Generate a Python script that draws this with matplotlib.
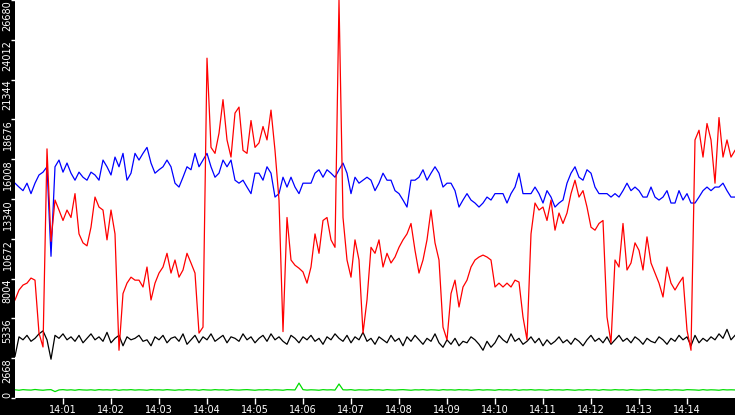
import numpy as np
import matplotlib
matplotlib.use("Agg")
import matplotlib.pyplot as plt
from matplotlib.transforms import blended_transform_factory

# samples every 5 s from 14:00:00 to 14:15:00
step_s = 5
y_max = 26680
y_ticks = [0, 2668, 5336, 8004, 10672, 13340, 16008, 18676, 21344, 24012, 26680]
x_tick_labels = ["14:%02d" % m for m in range(1, 15)]

red = [6570, 7240, 7570, 7700, 8040, 7900, 4350, 3420, 16700, 10500,
       13270, 12600, 11900, 12600, 12100, 13700, 11000, 10400, 10200, 11450,
       13470, 12800, 12600, 10600, 12600, 11000, 3200, 7000, 7700, 8100,
       7900, 7900, 7440, 8780, 6570, 7700, 8375, 8780, 9700, 8375,
       9250, 8100, 8580, 9700, 9050, 8375, 4350, 4750, 22780, 16800,
       16400, 17750, 20000, 17300, 16150, 19100, 19500, 16600, 16400, 18600,
       16800, 17100, 18200, 17300, 19300, 16600, 13270, 4450, 12100, 9250,
       8900, 8700, 8450, 7700, 8780, 11000, 9700, 11900, 12100, 10600,
       10100, 26680, 12100, 9250, 8100, 10600, 9250, 4350, 6570, 10100,
       9700, 10600, 8780, 9700, 9050, 9450, 10100, 10600, 11000, 11700,
       9900, 8375, 9250, 10600, 12600, 10400, 9250, 4750, 3900, 7000,
       7900, 6100, 7440, 7900, 8780, 9250, 9450, 9580, 9450, 9250,
       7440, 7700, 7440, 7700, 7440, 7900, 7770, 5430, 3900, 11000,
       13070, 12600, 12800, 11900, 13270, 11250, 12400, 11700, 12400, 13700,
       14600, 13470, 13900, 12800, 11450, 11250, 11700, 11900, 5430, 3700,
       9250, 8780, 11700, 8580, 9050, 10400, 9900, 8580, 10800, 9050,
       8375, 7700, 6770, 8780, 7700, 7240, 7700, 8100, 4550, 3200,
       17300, 17950, 16150, 18400, 17300, 14400, 18800, 16150, 17300, 16150,
       16600]

blue = [14400, 14140, 13900, 14400, 13700, 14400, 14950, 15140, 15500, 9500,
        15500, 15950, 15140, 15750, 15070, 14600, 15140, 14800, 14600, 15140,
        14950, 14600, 15950, 15500, 14950, 16150, 15500, 16400, 14600, 15070,
        16400, 15950, 16400, 16800, 15750, 15070, 15300, 15500, 15950, 15500,
        14400, 14140, 14800, 15500, 15300, 16400, 15500, 15950, 16400, 15500,
        14800, 15070, 15950, 15500, 15950, 14600, 14400, 14600, 14140, 13700,
        15070, 15070, 14600, 15500, 15070, 13470, 13700, 14800, 14140, 14800,
        14140, 13700, 14400, 14400, 14400, 15070, 15300, 14800, 15300, 15070,
        14800, 15300, 15750, 15070, 13700, 14800, 14400, 14600, 14800, 14600,
        13900, 14400, 15070, 14600, 14600, 13900, 13700, 13270, 12800, 14600,
        14600, 14800, 15300, 14600, 15070, 15500, 15070, 14140, 14400, 14400,
        13900, 12800, 13270, 13700, 13270, 13070, 12800, 13070, 13470, 13270,
        13700, 13700, 13700, 13070, 13700, 14140, 15070, 13700, 13700, 13700,
        14140, 13700, 13070, 13900, 13470, 12800, 13070, 13270, 14400, 15070,
        15500, 14800, 14600, 15300, 15070, 14140, 13700, 13700, 13700, 13470,
        13700, 13470, 13900, 14400, 13900, 14140, 13900, 13470, 13470, 14140,
        13470, 13270, 13470, 13900, 13070, 13070, 13900, 13270, 13700, 13070,
        13070, 13470, 13900, 14140, 13900, 14140, 14140, 14400, 13900, 13470,
        13470]

black = [2800, 4100, 3900, 4200, 3800, 4000, 4300, 4500, 3900, 2600,
         4200, 4000, 4300, 3900, 4100, 3800, 4200, 3700, 4000, 4300,
         3900, 4100, 3800, 4400, 3700, 4000, 4200, 3500, 4100, 3900,
         4000, 4200, 3800, 3900, 3500, 4100, 3900, 4200, 3700, 4000,
         4100, 3800, 4300, 3600, 3900, 4200, 3700, 4100, 3900, 4300,
         3800, 4000, 4200, 3700, 4100, 4000, 3800, 4300, 3900, 4100,
         3700, 4000, 4200, 3800, 4300, 3900, 4100, 3800, 3600, 4200,
         4000, 3700, 4100, 3900, 4200, 3800, 4000, 3600, 4100, 3900,
         4300, 4000, 3800, 4200, 3700, 4100, 3900, 4400, 3800, 4000,
         3600, 4100, 3900, 3700, 4200, 3800, 4000, 3500, 4100, 3800,
         4200, 3900, 3600, 4000, 3800, 4300, 3700, 3400, 3900, 3600,
         4000, 3500, 3800, 3700, 4100, 3900, 3600, 3200, 3800, 3400,
         3700, 4200, 3900, 3700, 4300, 3800, 4000, 3600, 3800, 4100,
         3700, 4000, 3500, 3900, 3600, 3800, 4100, 3700, 3900, 3600,
         4000, 3800, 3500, 3900, 4200, 3800, 4000, 3700, 4100, 3600,
         3900, 4200, 3800, 4000, 3700, 4100, 3900, 3600, 4000, 3800,
         3700, 4100, 3900, 3600, 4000, 3800, 4200, 3900, 4100, 3500,
         4200, 3700, 4000, 3800, 4100, 3900, 4300, 4000, 4600, 3900,
         4200]

green = [550, 520, 560, 540, 530, 570, 540, 520, 550, 560,
         430, 540, 560, 530, 550, 520, 560, 540, 530, 550,
         520, 560, 540, 550, 530, 560, 520, 550, 540, 560,
         530, 550, 540, 520, 560, 540, 550, 530, 560, 540,
         520, 550, 530, 560, 540, 550, 520, 560, 540, 530,
         560, 540, 550, 520, 560, 540, 530, 550, 560, 540,
         520, 550, 540, 560, 530, 550, 540, 520, 560, 550,
         540, 1000, 560, 530, 550, 540, 520, 560, 540, 550,
         530, 940, 550, 540, 560, 520, 550, 540, 530, 560,
         540, 550, 520, 560, 540, 530, 550, 560, 540, 520,
         550, 540, 560, 530, 550, 540, 520, 560, 540, 550,
         530, 560, 540, 550, 520, 540, 560, 530, 550, 540,
         520, 560, 540, 550, 530, 560, 520, 550, 540, 560,
         530, 550, 540, 520, 560, 540, 550, 530, 560, 540,
         520, 550, 530, 560, 540, 550, 520, 560, 540, 530,
         560, 540, 550, 520, 560, 540, 530, 550, 560, 540,
         520, 550, 540, 560, 530, 550, 540, 520, 560, 550,
         540, 520, 560, 530, 550, 540, 520, 560, 540, 550,
         540]

t = np.arange(len(red)) * step_s

fig = plt.figure(figsize=(7.35, 4.15), dpi=100, facecolor="black")
ax = fig.add_axes([15 / 735, 17 / 415, 720 / 735, 398 / 415])
ax.set_facecolor("white")
for s in ax.spines.values():
    s.set_visible(False)

lw = 0.9
ax.plot(t, green, color="#00dd00", lw=lw)
ax.plot(t, black, color="black", lw=lw)
ax.plot(t, blue, color="#0000ff", lw=lw)
ax.plot(t, red, color="#ff0000", lw=lw)

ax.set_xlim(0, 900)
ax.set_ylim(0, y_max)

ax.set_xticks(np.arange(1, 15) * 60)
ax.set_xticklabels(x_tick_labels)
ax.set_yticks(y_ticks)
ax.set_yticklabels([])
ax.tick_params(axis="x", colors="white", length=4, width=1, labelsize=7, pad=1)
ax.tick_params(axis="y", colors="white", length=3, width=1)

trans = blended_transform_factory(fig.transFigure, ax.transData)
for v in y_ticks:
    va = "bottom" if v == 0 else "top"
    ax.text(7.5 / 735, v, str(v), transform=trans, rotation=90, color="white",
            fontsize=7, ha="center", va=va, clip_on=False)

fig.savefig("out.png", dpi=100, facecolor="black")
